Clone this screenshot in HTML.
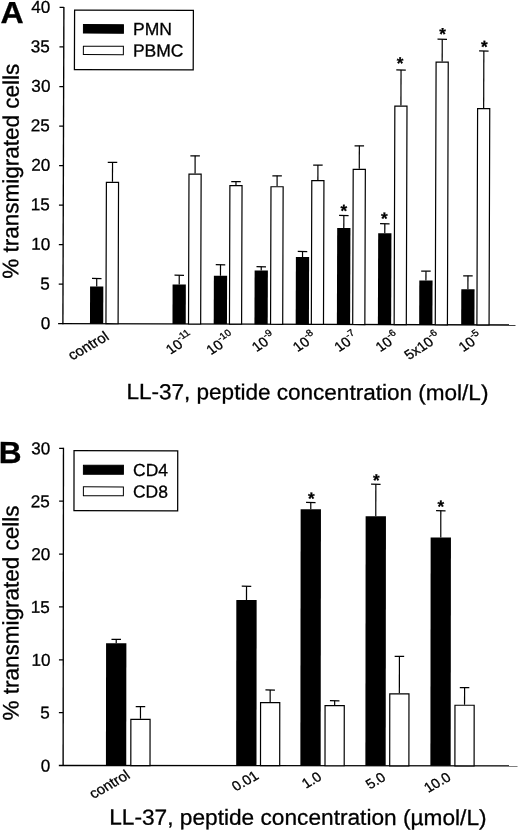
<!DOCTYPE html><html><head><meta charset="utf-8"><title>Figure</title><style>html,body{margin:0;padding:0;background:#fff}svg{display:block;filter:grayscale(1) blur(0.3px)}text{font-family:"Liberation Sans",sans-serif;fill:#000;stroke:#000;stroke-width:0.3px}</style></head><body>
<svg width="520" height="833" viewBox="0 0 520 833">
<rect width="520" height="833" fill="#fff"/>
<g transform="rotate(0.18 290 165)">
<text x="0.15" y="23.91" font-size="30.5" font-weight="bold" textLength="23.2" lengthAdjust="spacingAndGlyphs">A</text>
<line x1="63.40" y1="7.60" x2="63.40" y2="324.90" stroke="#000" stroke-width="1.35"/>
<line x1="58.60" y1="324.30" x2="516.00" y2="324.30" stroke="#000" stroke-width="1.35"/>
<text x="50.90" y="329.70" font-size="17.1" text-anchor="end">0</text>
<line x1="59.10" y1="284.79" x2="63.40" y2="284.79" stroke="#000" stroke-width="1.25"/>
<text x="50.18" y="290.19" font-size="17.1" text-anchor="end">5</text>
<line x1="59.10" y1="245.28" x2="63.40" y2="245.28" stroke="#000" stroke-width="1.25"/>
<text x="50.65" y="250.68" font-size="17.1" text-anchor="end">10</text>
<line x1="59.10" y1="205.76" x2="63.40" y2="205.76" stroke="#000" stroke-width="1.25"/>
<text x="49.93" y="211.16" font-size="17.1" text-anchor="end">15</text>
<line x1="59.10" y1="166.25" x2="63.40" y2="166.25" stroke="#000" stroke-width="1.25"/>
<text x="50.40" y="171.65" font-size="17.1" text-anchor="end">20</text>
<line x1="59.10" y1="126.74" x2="63.40" y2="126.74" stroke="#000" stroke-width="1.25"/>
<text x="49.68" y="132.14" font-size="17.1" text-anchor="end">25</text>
<line x1="59.10" y1="87.23" x2="63.40" y2="87.23" stroke="#000" stroke-width="1.25"/>
<text x="50.16" y="92.63" font-size="17.1" text-anchor="end">30</text>
<line x1="59.10" y1="47.71" x2="63.40" y2="47.71" stroke="#000" stroke-width="1.25"/>
<text x="49.43" y="53.11" font-size="17.1" text-anchor="end">35</text>
<line x1="59.10" y1="8.20" x2="63.40" y2="8.20" stroke="#000" stroke-width="1.25"/>
<text x="49.91" y="13.60" font-size="17.1" text-anchor="end">40</text>
<text transform="translate(18.52,172.05) rotate(-90)" font-size="22.5" text-anchor="middle" textLength="215" lengthAdjust="spacingAndGlyphs">% transmigrated cells</text>
<rect x="74.11" y="10.69" width="118.8" height="59.6" fill="#fff" stroke="#000" stroke-width="1.25"/>
<rect x="83.01" y="25.19" width="40" height="8.5" fill="#000" stroke="#000" stroke-width="1"/>
<text x="132.61" y="35.49" font-size="17.5">PMN</text>
<rect x="83.01" y="46.79" width="40" height="8.4" fill="#fff" stroke="#000" stroke-width="1"/>
<text x="132.61" y="56.99" font-size="17.5">PBMC</text>
<line x1="97.10" y1="279.11" x2="97.10" y2="287.21" stroke="#000" stroke-width="1.2"/>
<line x1="92.35" y1="279.11" x2="101.85" y2="279.11" stroke="#000" stroke-width="1.25"/>
<rect x="90.47" y="287.21" width="13.25" height="37.09" fill="#000"/>
<line x1="112.52" y1="162.86" x2="112.52" y2="182.36" stroke="#000" stroke-width="1.2"/>
<line x1="107.77" y1="162.86" x2="117.27" y2="162.86" stroke="#000" stroke-width="1.25"/>
<rect x="106.45" y="182.91" width="12.15" height="141.39" fill="#fff" stroke="#000" stroke-width="1.2"/>
<line x1="179.59" y1="275.60" x2="179.59" y2="284.85" stroke="#000" stroke-width="1.2"/>
<line x1="174.84" y1="275.60" x2="184.34" y2="275.60" stroke="#000" stroke-width="1.25"/>
<rect x="172.97" y="284.85" width="13.25" height="39.45" fill="#000"/>
<line x1="195.10" y1="156.10" x2="195.10" y2="173.80" stroke="#000" stroke-width="1.2"/>
<line x1="190.35" y1="156.10" x2="199.85" y2="156.10" stroke="#000" stroke-width="1.25"/>
<rect x="189.02" y="174.35" width="12.15" height="149.95" fill="#fff" stroke="#000" stroke-width="1.2"/>
<line x1="220.83" y1="264.97" x2="220.83" y2="275.97" stroke="#000" stroke-width="1.2"/>
<line x1="216.08" y1="264.97" x2="225.58" y2="264.97" stroke="#000" stroke-width="1.25"/>
<rect x="214.21" y="275.97" width="13.25" height="48.33" fill="#000"/>
<line x1="236.04" y1="181.77" x2="236.04" y2="185.27" stroke="#000" stroke-width="1.2"/>
<line x1="231.29" y1="181.77" x2="240.79" y2="181.77" stroke="#000" stroke-width="1.25"/>
<rect x="229.96" y="185.82" width="12.15" height="138.48" fill="#fff" stroke="#000" stroke-width="1.2"/>
<line x1="261.57" y1="266.84" x2="261.57" y2="270.59" stroke="#000" stroke-width="1.2"/>
<line x1="256.82" y1="266.84" x2="266.32" y2="266.84" stroke="#000" stroke-width="1.25"/>
<rect x="254.95" y="270.59" width="13.25" height="53.71" fill="#000"/>
<line x1="277.14" y1="175.84" x2="277.14" y2="186.24" stroke="#000" stroke-width="1.2"/>
<line x1="272.39" y1="175.84" x2="281.89" y2="175.84" stroke="#000" stroke-width="1.25"/>
<rect x="271.06" y="186.79" width="12.15" height="137.51" fill="#fff" stroke="#000" stroke-width="1.2"/>
<line x1="302.80" y1="251.46" x2="302.80" y2="256.96" stroke="#000" stroke-width="1.2"/>
<line x1="298.05" y1="251.46" x2="307.55" y2="251.46" stroke="#000" stroke-width="1.25"/>
<rect x="296.18" y="256.96" width="13.25" height="67.34" fill="#000"/>
<line x1="317.92" y1="165.01" x2="317.92" y2="179.91" stroke="#000" stroke-width="1.2"/>
<line x1="313.17" y1="165.01" x2="322.67" y2="165.01" stroke="#000" stroke-width="1.25"/>
<rect x="311.84" y="180.46" width="12.15" height="143.84" fill="#fff" stroke="#000" stroke-width="1.2"/>
<line x1="344.01" y1="215.33" x2="344.01" y2="227.83" stroke="#000" stroke-width="1.2"/>
<line x1="339.26" y1="215.33" x2="348.76" y2="215.33" stroke="#000" stroke-width="1.25"/>
<rect x="337.38" y="227.83" width="13.25" height="96.47" fill="#000"/>
<text x="343.89" y="216.37" font-size="17" font-weight="bold" text-anchor="middle">*</text>
<line x1="359.28" y1="145.58" x2="359.28" y2="168.58" stroke="#000" stroke-width="1.2"/>
<line x1="354.53" y1="145.58" x2="364.03" y2="145.58" stroke="#000" stroke-width="1.25"/>
<rect x="353.21" y="169.13" width="12.15" height="155.17" fill="#fff" stroke="#000" stroke-width="1.2"/>
<line x1="385.01" y1="223.45" x2="385.01" y2="232.95" stroke="#000" stroke-width="1.2"/>
<line x1="380.26" y1="223.45" x2="389.76" y2="223.45" stroke="#000" stroke-width="1.25"/>
<rect x="378.39" y="232.95" width="13.25" height="91.35" fill="#000"/>
<text x="384.41" y="224.00" font-size="17" font-weight="bold" text-anchor="middle">*</text>
<line x1="400.74" y1="69.65" x2="400.74" y2="105.15" stroke="#000" stroke-width="1.2"/>
<line x1="395.99" y1="69.65" x2="405.49" y2="69.65" stroke="#000" stroke-width="1.25"/>
<rect x="394.66" y="105.70" width="12.15" height="218.60" fill="#fff" stroke="#000" stroke-width="1.2"/>
<text x="399.67" y="68.70" font-size="17" font-weight="bold" text-anchor="middle">*</text>
<line x1="426.29" y1="270.77" x2="426.29" y2="280.07" stroke="#000" stroke-width="1.2"/>
<line x1="421.54" y1="270.77" x2="431.04" y2="270.77" stroke="#000" stroke-width="1.25"/>
<rect x="419.66" y="280.07" width="13.25" height="44.23" fill="#000"/>
<line x1="441.85" y1="38.77" x2="441.85" y2="61.02" stroke="#000" stroke-width="1.2"/>
<line x1="437.10" y1="38.77" x2="446.60" y2="38.77" stroke="#000" stroke-width="1.25"/>
<rect x="435.77" y="61.57" width="12.15" height="262.73" fill="#fff" stroke="#000" stroke-width="1.2"/>
<text x="442.08" y="39.31" font-size="17" font-weight="bold" text-anchor="middle">*</text>
<line x1="468.30" y1="275.24" x2="468.30" y2="288.64" stroke="#000" stroke-width="1.2"/>
<line x1="463.55" y1="275.24" x2="473.05" y2="275.24" stroke="#000" stroke-width="1.25"/>
<rect x="461.68" y="288.64" width="13.25" height="35.66" fill="#000"/>
<line x1="483.49" y1="50.39" x2="483.49" y2="107.39" stroke="#000" stroke-width="1.2"/>
<line x1="478.74" y1="50.39" x2="488.24" y2="50.39" stroke="#000" stroke-width="1.25"/>
<rect x="477.42" y="107.94" width="12.15" height="216.36" fill="#fff" stroke="#000" stroke-width="1.2"/>
<text x="483.87" y="51.93" font-size="17" font-weight="bold" text-anchor="middle">*</text>
<text transform="translate(110.57,339.57) rotate(-30) skewX(6)" font-size="14.5" text-anchor="end">control</text>
<text transform="translate(195.52,339.40) rotate(-33) skewX(6)" font-size="14" text-anchor="end">10<tspan font-size="9.8" dy="-6.5">-11</tspan></text>
<text transform="translate(236.60,339.27) rotate(-33) skewX(6)" font-size="14" text-anchor="end">10<tspan font-size="9.8" dy="-6.5">-10</tspan></text>
<text transform="translate(277.52,339.14) rotate(-33) skewX(6)" font-size="14" text-anchor="end">10<tspan font-size="9.8" dy="-6.5">-9</tspan></text>
<text transform="translate(318.55,339.01) rotate(-33) skewX(6)" font-size="14" text-anchor="end">10<tspan font-size="9.8" dy="-6.5">-8</tspan></text>
<text transform="translate(359.87,338.88) rotate(-33) skewX(6)" font-size="14" text-anchor="end">10<tspan font-size="9.8" dy="-6.5">-7</tspan></text>
<text transform="translate(401.20,338.75) rotate(-33) skewX(6)" font-size="14" text-anchor="end">10<tspan font-size="9.8" dy="-6.5">-6</tspan></text>
<text transform="translate(442.42,338.62) rotate(-33) skewX(6)" font-size="14" text-anchor="end">5x10<tspan font-size="9.8" dy="-6.5">-6</tspan></text>
<text transform="translate(484.17,338.49) rotate(-33) skewX(6)" font-size="14" text-anchor="end">10<tspan font-size="9.8" dy="-6.5">-5</tspan></text>
<text x="127.14" y="399.55" font-size="21.8" textLength="362.00" lengthAdjust="spacingAndGlyphs">LL-37, peptide concentration (mol/L)</text>
</g>
<g transform="rotate(0.06 290 607)">
<text x="-1.35" y="463.30" font-size="30.5" font-weight="bold" textLength="22.8" lengthAdjust="spacingAndGlyphs">B</text>
<line x1="63.30" y1="448.00" x2="63.30" y2="766.30" stroke="#000" stroke-width="1.35"/>
<line x1="59.00" y1="765.70" x2="517.70" y2="765.70" stroke="#000" stroke-width="1.35"/>
<text x="50.57" y="771.70" font-size="17.1" text-anchor="end">0</text>
<line x1="59.00" y1="712.85" x2="63.30" y2="712.85" stroke="#000" stroke-width="1.25"/>
<text x="49.91" y="718.85" font-size="17.1" text-anchor="end">5</text>
<line x1="59.00" y1="660.00" x2="63.30" y2="660.00" stroke="#000" stroke-width="1.25"/>
<text x="50.46" y="666.00" font-size="17.1" text-anchor="end">10</text>
<line x1="59.00" y1="607.15" x2="63.30" y2="607.15" stroke="#000" stroke-width="1.25"/>
<text x="49.80" y="613.15" font-size="17.1" text-anchor="end">15</text>
<line x1="59.00" y1="554.30" x2="63.30" y2="554.30" stroke="#000" stroke-width="1.25"/>
<text x="50.34" y="560.30" font-size="17.1" text-anchor="end">20</text>
<line x1="59.00" y1="501.45" x2="63.30" y2="501.45" stroke="#000" stroke-width="1.25"/>
<text x="49.69" y="507.45" font-size="17.1" text-anchor="end">25</text>
<line x1="59.00" y1="448.60" x2="63.30" y2="448.60" stroke="#000" stroke-width="1.25"/>
<text x="50.23" y="454.60" font-size="17.1" text-anchor="end">30</text>
<text transform="translate(18.51,613.28) rotate(-90)" font-size="22.5" text-anchor="middle" textLength="215" lengthAdjust="spacingAndGlyphs">% transmigrated cells</text>
<rect x="73.87" y="450.87" width="103.7" height="60" fill="#fff" stroke="#000" stroke-width="1.25"/>
<rect x="83.27" y="465.47" width="40" height="9" fill="#000" stroke="#000" stroke-width="1"/>
<text x="132.87" y="476.17" font-size="17.5">CD4</text>
<rect x="83.27" y="487.07" width="40" height="8.8" fill="#fff" stroke="#000" stroke-width="1"/>
<text x="132.87" y="497.77" font-size="17.5">CD8</text>
<line x1="116.26" y1="639.58" x2="116.26" y2="643.38" stroke="#000" stroke-width="1.2"/>
<line x1="111.51" y1="639.58" x2="121.01" y2="639.58" stroke="#000" stroke-width="1.25"/>
<rect x="106.11" y="643.38" width="20.3" height="122.32" fill="#000"/>
<line x1="140.58" y1="706.86" x2="140.58" y2="718.96" stroke="#000" stroke-width="1.2"/>
<line x1="135.83" y1="706.86" x2="145.33" y2="706.86" stroke="#000" stroke-width="1.25"/>
<rect x="130.98" y="719.51" width="19.20" height="46.19" fill="#fff" stroke="#000" stroke-width="1.2"/>
<line x1="246.49" y1="586.30" x2="246.49" y2="600.05" stroke="#000" stroke-width="1.2"/>
<line x1="241.74" y1="586.30" x2="251.24" y2="586.30" stroke="#000" stroke-width="1.25"/>
<rect x="236.34" y="600.05" width="20.3" height="165.65" fill="#000"/>
<line x1="270.27" y1="690.02" x2="270.27" y2="702.02" stroke="#000" stroke-width="1.2"/>
<line x1="265.52" y1="690.02" x2="275.02" y2="690.02" stroke="#000" stroke-width="1.25"/>
<rect x="260.67" y="702.57" width="19.20" height="63.13" fill="#fff" stroke="#000" stroke-width="1.2"/>
<line x1="310.69" y1="502.48" x2="310.69" y2="509.23" stroke="#000" stroke-width="1.2"/>
<line x1="305.94" y1="502.48" x2="315.44" y2="502.48" stroke="#000" stroke-width="1.25"/>
<rect x="300.54" y="509.23" width="20.3" height="256.47" fill="#000"/>
<text x="311.13" y="504.27" font-size="17" font-weight="bold" text-anchor="middle">*</text>
<line x1="334.77" y1="700.70" x2="334.77" y2="704.95" stroke="#000" stroke-width="1.2"/>
<line x1="330.02" y1="700.70" x2="339.52" y2="700.70" stroke="#000" stroke-width="1.25"/>
<rect x="325.17" y="705.50" width="19.20" height="60.20" fill="#fff" stroke="#000" stroke-width="1.2"/>
<line x1="375.70" y1="484.16" x2="375.70" y2="516.16" stroke="#000" stroke-width="1.2"/>
<line x1="370.95" y1="484.16" x2="380.45" y2="484.16" stroke="#000" stroke-width="1.25"/>
<rect x="365.55" y="516.16" width="20.3" height="249.54" fill="#000"/>
<text x="376.11" y="485.95" font-size="17" font-weight="bold" text-anchor="middle">*</text>
<line x1="399.46" y1="656.19" x2="399.46" y2="693.19" stroke="#000" stroke-width="1.2"/>
<line x1="394.71" y1="656.19" x2="404.21" y2="656.19" stroke="#000" stroke-width="1.25"/>
<rect x="389.86" y="693.74" width="19.20" height="71.96" fill="#fff" stroke="#000" stroke-width="1.2"/>
<line x1="440.71" y1="510.59" x2="440.71" y2="537.34" stroke="#000" stroke-width="1.2"/>
<line x1="435.96" y1="510.59" x2="445.46" y2="510.59" stroke="#000" stroke-width="1.25"/>
<rect x="430.56" y="537.34" width="20.3" height="228.36" fill="#000"/>
<text x="440.64" y="512.13" font-size="17" font-weight="bold" text-anchor="middle">*</text>
<line x1="464.67" y1="687.52" x2="464.67" y2="704.52" stroke="#000" stroke-width="1.2"/>
<line x1="459.92" y1="687.52" x2="469.42" y2="687.52" stroke="#000" stroke-width="1.25"/>
<rect x="455.07" y="705.07" width="19.20" height="60.63" fill="#fff" stroke="#000" stroke-width="1.2"/>
<text transform="translate(131.33,777.57) rotate(-30) skewX(6)" font-size="14.5" text-anchor="end">control</text>
<text transform="translate(259.80,778.03) rotate(-30) skewX(6)" font-size="14" text-anchor="end">0.01</text>
<text transform="translate(322.98,779.07) rotate(-30) skewX(6)" font-size="14" text-anchor="end">1.0</text>
<text transform="translate(387.03,779.60) rotate(-30) skewX(6)" font-size="14" text-anchor="end">5.0</text>
<text transform="translate(452.13,779.33) rotate(-30) skewX(6)" font-size="14" text-anchor="end">10.0</text>
<text x="109.43" y="824.79" font-size="21.8" textLength="377.40" lengthAdjust="spacingAndGlyphs">LL-37, peptide concentration (µmol/L)</text>
</g>
</svg></body></html>
